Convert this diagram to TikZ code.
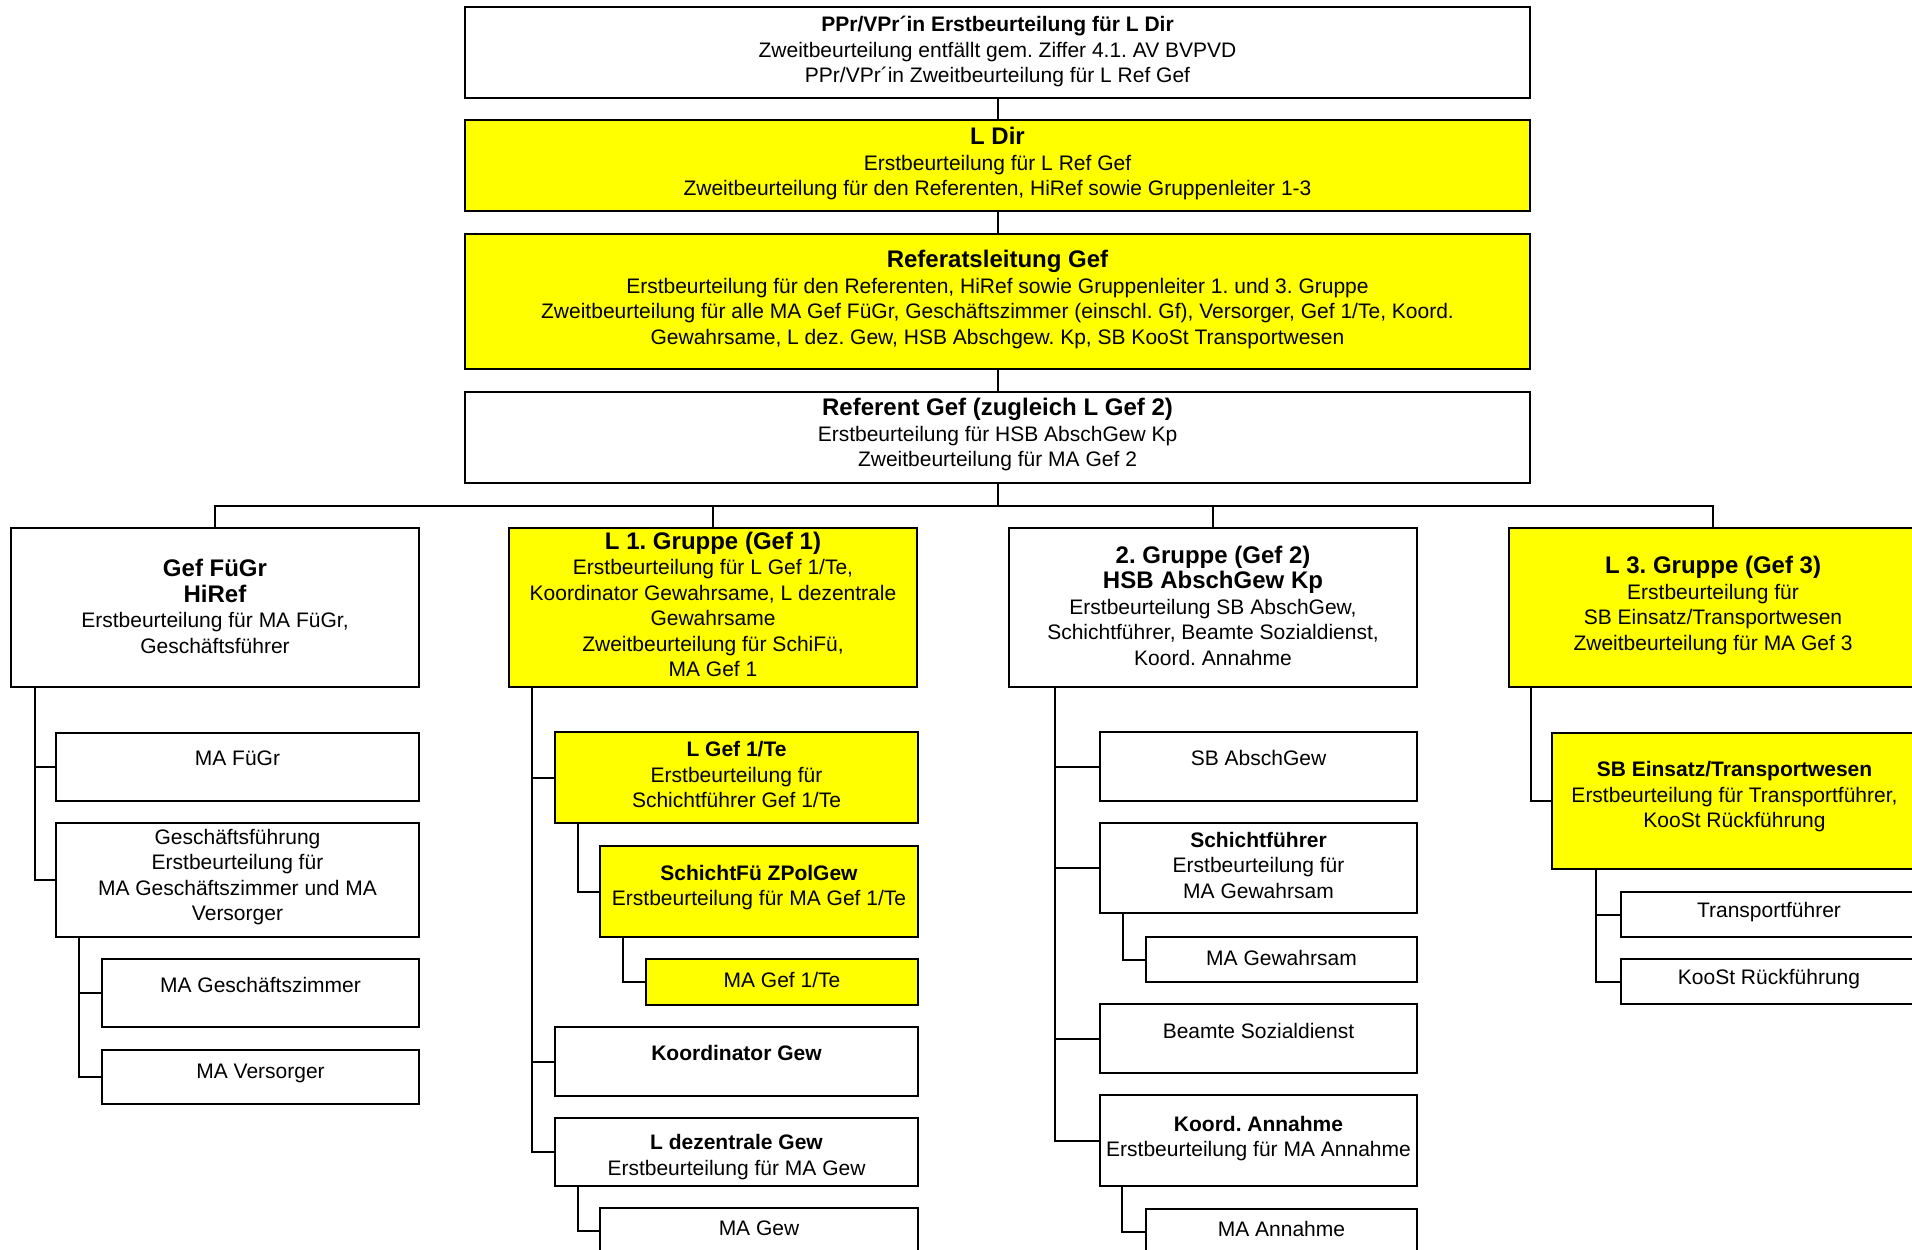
\documentclass[tikz,border=0pt]{standalone}
\usepackage{fontspec}
\setmainfont{Liberation Sans}
\frenchspacing
\definecolor{ylw}{RGB}{255,255,0}
\newcommand\myreg{\fontsize{21}{25.5}\selectfont}
\newcommand\myhd{\fontsize{24}{28}\selectfont\bfseries}
\newcommand\obox[8]{%
  \node[boxst,fill=#6,minimum width=#4pt,minimum height=#5pt,anchor=north west] (#1) at (#2,#3) {};
  \node[txtst] (#1-t) at ([yshift=#7pt]#1.center) {#8};}
\begin{document}
\begin{tikzpicture}[x=1pt,y=-1pt,
  boxst/.style={draw=black,line width=2pt,inner sep=0pt,outer sep=0pt},
  txtst/.style={inner sep=0pt,align=center,font=\myreg},
  conn/.style={draw=black,line width=2pt}]
\useasboundingbox (0,0) rectangle (1912,1250);
\clip (0,0) rectangle (1912,1250);
\fill[white] (0,0) rectangle (1912,1250);

% top chain
\obox{top}{465}{7}{1065}{91}{white}{1}{\textbf{PPr/VPr´in Erstbeurteilung für L Dir}\\Zweitbeurteilung entfällt gem. Ziffer 4.1. AV BVPVD\\PPr/VPr´in Zweitbeurteilung für L Ref Gef}
\obox{ldir}{465}{120}{1065}{91}{ylw}{2}{{\myhd L Dir}\\Erstbeurteilung für L Ref Gef\\Zweitbeurteilung für den Referenten, HiRef sowie Gruppenleiter 1-3}
\obox{refl}{465}{234}{1065}{135}{ylw}{2}{{\myhd Referatsleitung Gef}\\Erstbeurteilung für den Referenten, HiRef sowie Gruppenleiter 1. und 3. Gruppe\\Zweitbeurteilung für alle MA Gef FüGr, Geschäftszimmer (einschl. Gf), Versorger, Gef 1/Te, Koord.\\Gewahrsame, L dez. Gew, HSB Abschgew. Kp, SB KooSt Transportwesen}
\obox{ref}{465}{392}{1065}{91}{white}{3}{{\myhd Referent Gef (zugleich L Gef 2)}\\Erstbeurteilung für HSB AbschGew Kp\\Zweitbeurteilung für MA Gef 2}

\draw[conn] (top.south) -- (ldir.north);
\draw[conn] (ldir.south) -- (refl.north);
\draw[conn] (refl.south) -- (ref.north);

% column 0
\obox{g0}{11}{528}{408}{159}{white}{1}{{\myhd Gef FüGr}\\{\myhd HiRef}\\Erstbeurteilung für MA FüGr,\\Geschäftsführer}
\obox{c0a}{56}{733}{363}{68}{white}{9}{MA FüGr}
\obox{c0b}{56}{823}{363}{114}{white}{3}{Geschäftsführung\\Erstbeurteilung für\\MA Geschäftszimmer und MA\\Versorger}
\obox{c0ba}{102}{959}{317}{68}{white}{8}{MA Geschäftszimmer}
\obox{c0bb}{102}{1050}{317}{54}{white}{4}{MA Versorger}

% column 1
\obox{g1}{509}{528}{408}{159}{ylw}{3}{{\myhd L 1. Gruppe (Gef 1)}\\Erstbeurteilung für L Gef 1/Te,\\Koordinator Gewahrsame, L dezentrale\\Gewahrsame\\Zweitbeurteilung für SchiFü,\\MA Gef 1}
\obox{c1a}{555}{732}{363}{91}{ylw}{3}{\textbf{L Gef 1/Te}\\Erstbeurteilung für\\Schichtführer Gef 1/Te}
\obox{c1aa}{600}{846}{318}{91}{ylw}{4}{\textbf{SchichtFü ZPolGew}\\Erstbeurteilung für MA Gef 1/Te}
\obox{c1aaa}{646}{959}{272}{46}{ylw}{2}{MA Gef 1/Te}
\obox{c1b}{555}{1027}{363}{69}{white}{9}{\textbf{Koordinator Gew}}
\obox{c1c}{555}{1118}{363}{68}{white}{-5}{\textbf{L dezentrale Gew}\\Erstbeurteilung für MA Gew}
\obox{c1ca}{600}{1208}{318}{46}{white}{3}{MA Gew}

% column 2
\obox{g2}{1009}{528}{408}{159}{white}{2}{{\myhd 2. Gruppe (Gef 2)}\\{\myhd HSB AbschGew Kp}\\Erstbeurteilung SB AbschGew,\\Schichtführer, Beamte Sozialdienst,\\Koord. Annahme}
\obox{c2a}{1100}{732}{317}{69}{white}{9}{SB AbschGew}
\obox{c2b}{1100}{823}{317}{90}{white}{3}{\textbf{Schichtführer}\\Erstbeurteilung für\\MA Gewahrsam}
\obox{c2ba}{1146}{937}{271}{45}{white}{2}{MA Gewahrsam}
\obox{c2c}{1100}{1004}{317}{69}{white}{8}{Beamte Sozialdienst}
\obox{c2d}{1100}{1095}{317}{91}{white}{2}{\textbf{Koord. Annahme}\\Erstbeurteilung für MA Annahme}
\obox{c2da}{1146}{1209}{271}{46}{white}{3}{MA Annahme}

% column 3
\obox{g3}{1509}{528}{408}{159}{ylw}{2}{{\myhd L 3. Gruppe (Gef 3)}\\Erstbeurteilung für\\SB Einsatz/Transportwesen\\Zweitbeurteilung für MA Gef 3}
\obox{c3a}{1552}{733}{365}{136}{ylw}{4}{\textbf{SB Einsatz/Transportwesen}\\Erstbeurteilung für Transportführer,\\KooSt Rückführung}
\obox{c3aa}{1621}{892}{296}{45}{white}{2}{Transportführer}
\obox{c3ab}{1621}{959}{296}{45}{white}{2}{KooSt Rückführung}

% bus
\coordinate (bus) at (997.5,506);
\draw[conn] (ref.south) -- (bus);
\draw[conn] (g0.north) |- (bus) -| (g3.north);
\draw[conn] (bus) -| (g1.north);
\draw[conn] (bus) -| (g2.north);

% column connectors
\draw[conn] ([xshift=24pt]g0.south west) |- (c0a.west);
\draw[conn] ([xshift=24pt]g0.south west) |- (c0b.west);
\draw[conn] ([xshift=23pt]c0b.south west) |- (c0ba.west);
\draw[conn] ([xshift=23pt]c0b.south west) |- (c0bb.west);

\draw[conn] ([xshift=23pt]g1.south west) |- (c1a.west);
\draw[conn] ([xshift=23pt]g1.south west) |- (c1b.west);
\draw[conn] ([xshift=23pt]g1.south west) |- (c1c.west);
\draw[conn] ([xshift=23pt]c1a.south west) |- (c1aa.west);
\draw[conn] ([xshift=23pt]c1aa.south west) |- (c1aaa.west);
\draw[conn] ([xshift=23pt]c1c.south west) |- (c1ca.west);

\draw[conn] ([xshift=46pt]g2.south west) |- (c2a.west);
\draw[conn] ([xshift=46pt]g2.south west) |- (c2b.west);
\draw[conn] ([xshift=46pt]g2.south west) |- (c2c.west);
\draw[conn] ([xshift=46pt]g2.south west) |- (c2d.west);
\draw[conn] ([xshift=23pt]c2b.south west) |- (c2ba.west);
\draw[conn] ([xshift=22pt]c2d.south west) |- (c2da.west);

\draw[conn] ([xshift=22pt]g3.south west) |- (c3a.west);
\draw[conn] ([xshift=44pt]c3a.south west) |- (c3aa.west);
\draw[conn] ([xshift=44pt]c3a.south west) |- (c3ab.west);
\end{tikzpicture}
\end{document}
